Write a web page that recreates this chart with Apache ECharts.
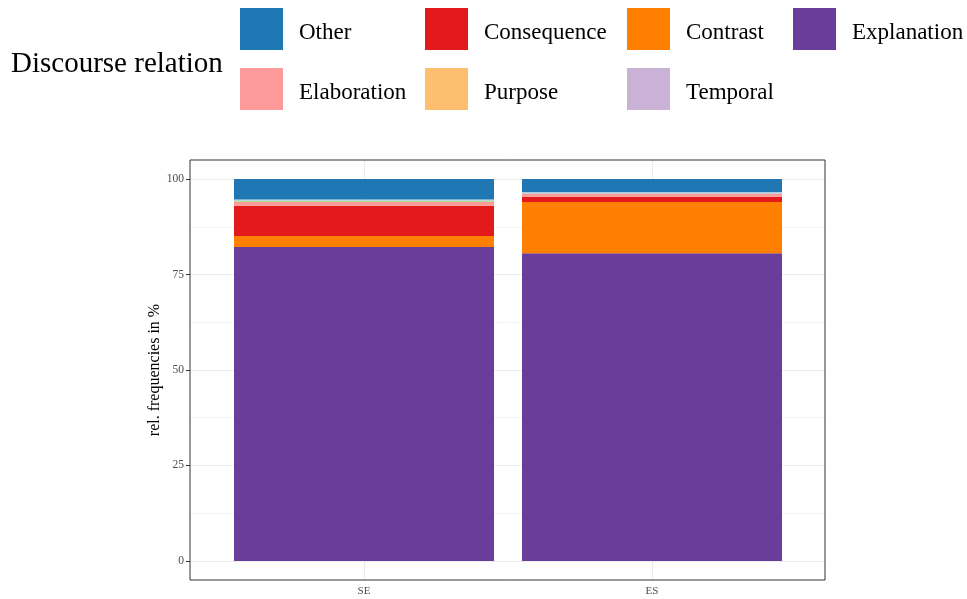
<!DOCTYPE html>
<html>
<head>
<meta charset="utf-8">
<script src="https://cdn.jsdelivr.net/npm/echarts@6/dist/echarts.min.js"></script>
<style>html,body{margin:0;padding:0;background:#fff;}#c{width:967px;height:599px;}</style>
</head>
<body>
<div id="c"></div>
<script>
const categories = ['SE', 'ES'];
const yTicks = [0, 25, 50, 75, 100];
const yMinor = [12.5, 37.5, 62.5, 87.5];
// stacked from bottom to top
const seriesNames = ['Explanation', 'Contrast', 'Consequence', 'Purpose', 'Temporal', 'Elaboration', 'Unlabelled 2', 'Unlabelled 1', 'Other'];
const explanation = [82.2, 80.6];
const contrast = [2.9, 13.4];
const consequence = [7.9, 1.4];
const purpose = [0, 0];
const temporal = [0, 0];
const elaboration = [1.0, 0.8];
const unlabelled2 = [0.3, 0];
const unlabelled1 = [0.35, 0.4];
const other = [5.35, 3.4];
const seriesValues = [explanation, contrast, consequence, purpose, temporal, elaboration, unlabelled2, unlabelled1, other];
const colors = {
  'Explanation': '#6A3D9A', 'Contrast': '#FF7F00', 'Consequence': '#E31A1C', 'Purpose': '#FDBF6F',
  'Temporal': '#CAB2D6', 'Elaboration': '#FB9A99', 'Unlabelled 2': '#B2DF8A', 'Unlabelled 1': '#A6CEE3', 'Other': '#1F78B4'
};
const legendRows = [['Other', 'Consequence', 'Contrast', 'Explanation'], ['Elaboration', 'Purpose', 'Temporal']];

const FONT = '"Liberation Serif", "Times New Roman", serif';
const colX = [240, 425, 627, 793];
const rowY = [8, 68];
const legends = [];
legendRows.forEach((row, r) => row.forEach((name, c) => {
  legends.push({
    data: [name], left: colX[c], top: rowY[r], orient: 'horizontal',
    itemWidth: 43, itemHeight: 42, itemGap: 0, icon: 'rect', padding: 0,
    selectedMode: false,
    formatter: '{t|{name}}',
    textStyle: {
      fontFamily: FONT, fontSize: 23, color: '#000', padding: [0, 0, 0, 11],
      rich: { t: { fontFamily: FONT, fontSize: 23, color: '#000', padding: [7, 0, 0, 0] } }
    }
  });
}));

const series = seriesNames.map((name, si) => ({
  name, type: 'bar', stack: 'all', barWidth: 260, z: 3,
  xAxisIndex: 1, yAxisIndex: 1,
  itemStyle: { color: colors[name] },
  emphasis: { disabled: true },
  data: seriesValues[si]
}));
series.push({
  type: 'line', data: [], z: 1, silent: true, xAxisIndex: 0, yAxisIndex: 0,
  markLine: {
    silent: true, symbol: 'none', label: { show: false }, z: 1, animation: false,
    lineStyle: { color: '#EBEBEB', width: 0.6, type: 'solid' },
    data: yMinor.map(v => ({ yAxis: v }))
  }
});
series.push({
  type: 'line', data: [], z: 1, silent: true, xAxisIndex: 1, yAxisIndex: 1,
  markLine: {
    silent: true, symbol: 'none', label: { show: false }, z: 1, animation: false,
    lineStyle: { color: '#EBEBEB', width: 1.1, type: 'solid' },
    data: categories.map(c => ({ xAxis: c }))
  }
});

const chart = echarts.init(document.getElementById('c'), null, { renderer: 'canvas' });
chart.setOption({
  animation: false,
  backgroundColor: '#fff',
  title: {
    text: 'Discourse relation', left: 6, top: 45,
    textStyle: { fontFamily: FONT, fontSize: 29, fontWeight: 'normal', color: '#000' }
  },
  legend: legends,
  grid: [
    { left: 190, right: 142, top: 160, bottom: 19, show: true, borderColor: '#333', borderWidth: 1, backgroundColor: 'transparent', z: 4 },
    { left: 220, right: 171, top: 160, bottom: 19, show: false }
  ],
  xAxis: [
    { type: 'value', gridIndex: 0, min: 0, max: 1, show: false },
    {
      type: 'category', gridIndex: 1, data: categories,
      axisLine: { show: false },
      axisTick: { show: true, alignWithLabel: true, length: 4, lineStyle: { color: '#333' } },
      axisLabel: { fontFamily: FONT, fontSize: 11, color: '#4D4D4D', margin: 6 },
      splitLine: { show: false }
    }
  ],
  yAxis: [
    {
      type: 'value', gridIndex: 0, min: -5, max: 105,
      name: 'rel. frequencies in %', nameLocation: 'middle', nameGap: 27, nameRotate: 90,
      nameMoveOverlap: false,
      nameTextStyle: { fontFamily: FONT, fontSize: 16, color: '#000' },
      axisLine: { show: false },
      axisTick: { show: true, customValues: yTicks, length: 4, lineStyle: { color: '#333' } },
      axisLabel: { customValues: yTicks, fontFamily: FONT, fontSize: 11.5, color: '#4D4D4D', margin: 6 },
      splitLine: { show: true, lineStyle: { color: '#EBEBEB', width: 1.1 } }
    },
    { type: 'value', gridIndex: 1, min: -5, max: 105, show: false, splitLine: { show: false } }
  ],
  series
});
</script>
</body>
</html>
